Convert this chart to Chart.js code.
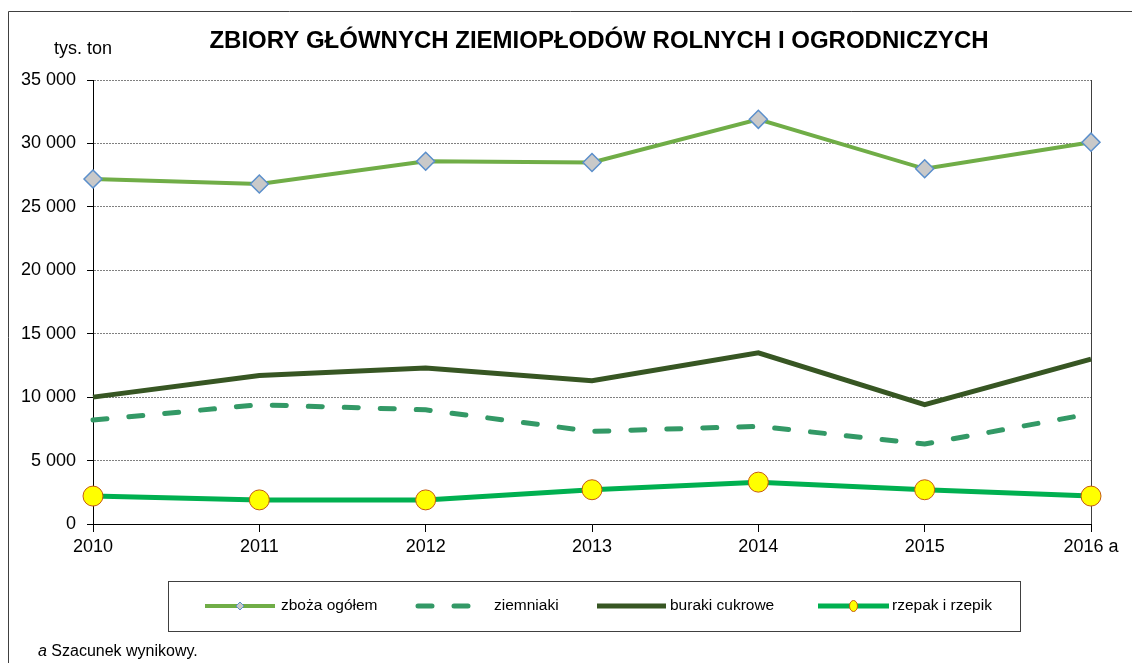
<!DOCTYPE html>
<html>
<head>
<meta charset="utf-8">
<script src="https://cdn.jsdelivr.net/npm/chart.js@4"></script>
<style>
  html, body { margin: 0; padding: 0; background: #fff; }
  #wrap { width: 1132px; height: 663px; }
</style>
</head>
<body>
<div id="wrap"><canvas id="chart" width="1132" height="663"></canvas></div>
<script>
// dane (tys. ton)
const years = ["2010", "2011", "2012", "2013", "2014", "2015", "2016 a"];
const zboza = [27200, 26800, 28600, 28500, 31900, 28000, 30100];
const ziemniaki = [8200, 9400, 9000, 7300, 7700, 6300, 8700];
const buraki = [10000, 11700, 12300, 11300, 13500, 9400, 13000];
const rzepak = [2200, 1900, 1900, 2700, 3300, 2700, 2200];
const yTicks = [0, 5000, 10000, 15000, 20000, 25000, 30000, 35000];

const FONT = "'Liberation Sans', Arial, sans-serif";

const fmt = v => String(v).replace(/\B(?=(\d{3})+(?!\d))/g, " ");

// tytuł, legenda, ramka, przypis
const decorPlugin = {
  id: 'decor',
  afterDraw(chart) {
    const { ctx } = chart;
    ctx.save();
    // ramka
    ctx.strokeStyle = '#404040';
    ctx.lineWidth = 1;
    ctx.beginPath();
    ctx.moveTo(8.5, 663);
    ctx.lineTo(8.5, 11.5);
    ctx.lineTo(1132, 11.5);
    ctx.stroke();

    ctx.fillStyle = '#000';
    ctx.textBaseline = 'middle';
    ctx.textAlign = 'center';
    ctx.font = 'bold 24px ' + FONT;
    ctx.fillText('ZBIORY GŁÓWNYCH ZIEMIOPŁODÓW ROLNYCH I OGRODNICZYCH', 599, 41);

    ctx.textAlign = 'left';
    ctx.font = '18px ' + FONT;
    ctx.fillText('tys. ton', 54, 49);

    // przypis
    ctx.font = 'italic 16px ' + FONT;
    ctx.fillText('a', 38, 652);
    const aw = ctx.measureText('a ').width;
    ctx.font = '16px ' + FONT;
    ctx.fillText('Szacunek wynikowy.', 38 + aw, 652);

    // legenda
    ctx.strokeStyle = '#404040';
    ctx.strokeRect(168.5, 581.5, 852, 50);
    const items = [
      { x1: 205, x2: 275, tx: 281 },
      { x1: 415, x2: 475, tx: 494 },
      { x1: 597, x2: 666, tx: 670 },
      { x1: 818, x2: 889, tx: 892 }
    ];
    const ly = 606;
    chart.data.datasets.forEach((ds, i) => {
      const it = items[i];
      ctx.save();
      ctx.strokeStyle = ds.borderColor;
      ctx.lineWidth = ds.borderWidth;
      ctx.lineCap = ds.borderCapStyle || 'butt';
      if (ds.borderDash) ctx.setLineDash([14, 22]);
      ctx.beginPath();
      if (ds.borderDash) {
        ctx.moveTo(it.x1 + 3, ly);
        ctx.lineTo(it.x2, ly);
      } else {
        ctx.moveTo(it.x1, ly);
        ctx.lineTo(it.x2, ly);
      }
      ctx.stroke();
      ctx.restore();
      const cx = (it.x1 + it.x2) / 2;
      if (ds.pointStyle === 'rectRot') {
        ctx.save();
        ctx.fillStyle = ds.pointBackgroundColor;
        ctx.strokeStyle = ds.pointBorderColor;
        ctx.lineWidth = 1;
        ctx.beginPath();
        ctx.moveTo(cx, ly - 4); ctx.lineTo(cx + 4, ly); ctx.lineTo(cx, ly + 4); ctx.lineTo(cx - 4, ly);
        ctx.closePath(); ctx.fill(); ctx.stroke();
        ctx.restore();
      } else if (ds.pointStyle === 'circle') {
        ctx.save();
        ctx.fillStyle = ds.pointBackgroundColor;
        ctx.strokeStyle = ds.pointBorderColor;
        ctx.lineWidth = 1;
        ctx.beginPath();
        ctx.ellipse(cx, ly, 4, 5.5, 0, 0, Math.PI * 2);
        ctx.fill(); ctx.stroke();
        ctx.restore();
      }
      ctx.fillStyle = '#000';
      ctx.font = '15.5px ' + FONT;
      ctx.textAlign = 'left';
      ctx.fillText(ds.label, it.tx, ly);
    });
    ctx.restore();
  }
};

new Chart(document.getElementById('chart'), {
  type: 'line',
  data: {
    labels: years,
    datasets: [
      {
        label: 'zboża ogółem',
        data: zboza,
        borderColor: '#70AD47',
        borderWidth: 4,
        pointStyle: 'rectRot',
        pointRadius: 9,
        pointBackgroundColor: '#C9C9C9',
        pointBorderColor: '#5B8FCB',
        pointBorderWidth: 1.5,
        clip: false
      },
      {
        label: 'ziemniaki',
        data: ziemniaki,
        borderColor: '#339966',
        borderWidth: 5,
        borderDash: [14, 22],
        borderCapStyle: 'round',
        pointRadius: 0,
        clip: false
      },
      {
        label: 'buraki cukrowe',
        data: buraki,
        borderColor: '#375623',
        borderWidth: 5,
        pointRadius: 0,
        clip: false
      },
      {
        label: 'rzepak i rzepik',
        data: rzepak,
        borderColor: '#00B050',
        borderWidth: 5,
        pointStyle: 'circle',
        pointRadius: 10,
        pointBackgroundColor: '#FFFF00',
        pointBorderColor: '#C55A11',
        pointBorderWidth: 1,
        clip: false
      }
    ]
  },
  options: {
    responsive: false,
    animation: false,
    layout: { padding: { left: 0, right: 41, top: 80, bottom: 0 } },
    plugins: {
      legend: { display: false },
      title: { display: false },
      tooltip: { enabled: false }
    },
    elements: { line: { tension: 0 } },
    scales: {
      x: {
        offset: false,
        afterFit: s => { s.height = 139; },
        grid: {
          color: c => c.index === years.length - 1 ? '#404040' : 'rgba(0,0,0,0)',
          tickColor: '#000',
          tickLength: 8,
          lineWidth: 1
        },
        border: { color: '#000', width: 1 },
        ticks: {
          color: '#000',
          font: { family: FONT, size: 18 },
          padding: 4,
          maxRotation: 0,
          autoSkip: false
        }
      },
      y: {
        min: 0,
        max: 35000,
        afterFit: s => { s.width = 93; },
        afterBuildTicks: s => { s.ticks = yTicks.map(v => ({ value: v })); },
        grid: {
          color: '#808080',
          tickColor: '#000',
          tickLength: 6,
          tickBorderDash: [],
          lineWidth: 1
        },
        border: { color: '#000', width: 1, dash: [2, 1] },
        ticks: {
          color: '#000',
          font: { family: FONT, size: 18 },
          padding: 11,
          callback: v => fmt(v)
        }
      }
    }
  },
  plugins: [decorPlugin]
});
</script>
</body>
</html>
